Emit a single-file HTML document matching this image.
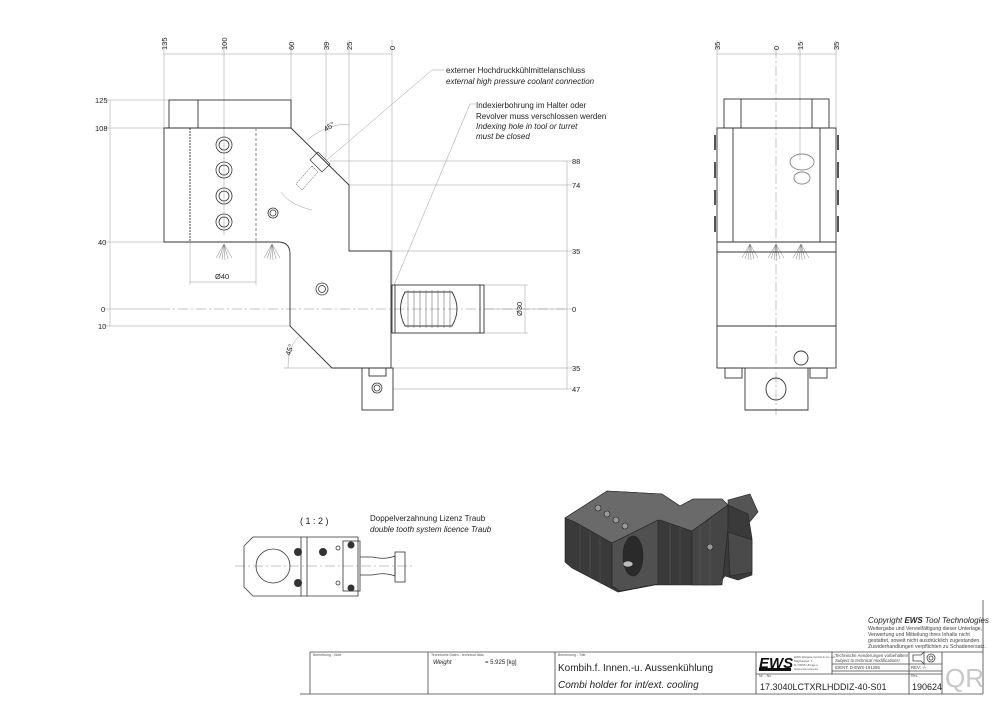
<!DOCTYPE html>
<html><head><meta charset="utf-8"><style>
html,body{margin:0;padding:0;background:#fff}
svg{display:block}
text{font-family:"Liberation Sans",sans-serif}
</style></head><body>
<svg width="1000" height="715" viewBox="0 0 1000 715" xmlns="http://www.w3.org/2000/svg">
<g fill="none" stroke="#9a9a9a" stroke-width="0.5">
 <line x1="164" y1="54" x2="392" y2="54"/>
 <line x1="164" y1="40" x2="164" y2="128"/>
 <line x1="224" y1="40" x2="224" y2="235"/>
 <line x1="291" y1="40" x2="291" y2="128"/>
 <line x1="326" y1="40" x2="326" y2="160"/>
 <line x1="349" y1="40" x2="349" y2="185"/>
 <line x1="392" y1="40" x2="392" y2="300"/>
 <line x1="110" y1="100" x2="110" y2="326"/>
 <line x1="104" y1="100" x2="169" y2="100"/>
 <line x1="104" y1="128" x2="164" y2="128"/>
 <line x1="104" y1="242" x2="164" y2="242"/>
 <line x1="104" y1="309" x2="160" y2="309"/>
 <line x1="104" y1="326" x2="291" y2="326"/>
 <line x1="567" y1="161" x2="567" y2="389"/>
 <line x1="330" y1="161" x2="572" y2="161"/>
 <line x1="349" y1="185" x2="572" y2="185"/>
 <line x1="391" y1="251" x2="572" y2="251"/>
 <line x1="484" y1="309" x2="572" y2="309"/>
 <line x1="284" y1="368" x2="572" y2="368"/>
 <line x1="393" y1="389" x2="572" y2="389"/>
 <line x1="190" y1="282" x2="256" y2="282"/>
 <line x1="190" y1="242" x2="190" y2="285"/>
 <line x1="256" y1="242" x2="256" y2="285"/>
 <line x1="525" y1="285" x2="525" y2="333"/>
 <line x1="484" y1="285" x2="528" y2="285"/>
 <line x1="484" y1="333" x2="528" y2="333"/>
 <path d="M307 140 Q330 122 350 125"/>
 <path d="M288 368 Q288 345 300 336"/>
 <path d="M281 192 Q290 205 312 210"/>
 <polyline points="327,160 432,70 444,70"/>
 <polyline points="394,285 470,104 476,104"/>
 <line x1="717" y1="54" x2="836" y2="54"/>
 <line x1="717" y1="40" x2="717" y2="128"/>
 <line x1="836" y1="40" x2="836" y2="128"/>
 <line x1="800" y1="40" x2="800" y2="160"/>
</g>
<g fill="none" stroke="#888" stroke-width="0.5" stroke-dasharray="10,3,2,3">
 <line x1="160" y1="309" x2="565" y2="309"/>
 <line x1="776" y1="48" x2="776" y2="415"/>
 <line x1="235" y1="566" x2="412" y2="566"/>
</g>
<g fill="none" stroke="#333" stroke-width="0.9">
 <rect x="169" y="100" width="122" height="28"/>
 <line x1="198" y1="100" x2="198" y2="128"/>
 <path d="M164 128 H291 L349 185 V251 H391 V368 H332 L290 326 V254 Q290 242 278 242 H164 Z"/>
 <line x1="190" y1="128" x2="190" y2="242" stroke-dasharray="2,1"/>
 <line x1="256" y1="128" x2="256" y2="242" stroke-dasharray="3,2" stroke="#777"/>
 <rect x="392" y="285" width="92" height="48"/>
 <line x1="395" y1="285" x2="395" y2="333"/>
 <line x1="480" y1="285" x2="480" y2="333"/>
 <path d="M405 292 H452 Q462 309 452 326 H405 Q396 309 405 292 Z"/>
 <rect x="362" y="368" width="31" height="42"/>
 <rect x="369" y="368" width="17" height="8"/>
 <path d="M318 152 L330 164 L322 172 L310 160 Z" stroke-width="0.7"/>
 <path d="M312 166 L318 172 L302 190 L296 184 Z" stroke-width="0.5" stroke-dasharray="2,1"/>
</g>
<g fill="none" stroke="#555" stroke-width="0.5">
 <path d="M408 290 v38 M414 290 v38 M420 290 v38 M426 290 v38 M432 290 v38 M438 290 v38 M444 290 v38 M450 290 v38"/>
</g>
<g fill="none" stroke="#333" stroke-width="0.8">
 <circle cx="224" cy="145" r="8"/><circle cx="224" cy="145" r="5"/>
 <circle cx="224" cy="170" r="8"/><circle cx="224" cy="170" r="5"/>
 <circle cx="224" cy="196" r="8"/><circle cx="224" cy="196" r="5"/>
 <circle cx="224" cy="222" r="8"/><circle cx="224" cy="222" r="5"/>
 <circle cx="273" cy="213" r="5"/><circle cx="273" cy="213" r="3"/>
 <circle cx="322" cy="289" r="6"/><circle cx="322" cy="289" r="3.5"/>
 <circle cx="377" cy="388" r="5"/><circle cx="377" cy="388" r="3"/>
</g>
<g stroke="#666" stroke-width="0.4">
 <path d="M224 244 L216 258 M224 244 L219 259 M224 244 L222 260 M224 244 L225 260 M224 244 L228 259 M224 244 L232 258"/>
 <path d="M272 244 L264 258 M272 244 L267 259 M272 244 L270 260 M272 244 L273 260 M272 244 L276 259 M272 244 L280 258"/>
 <path d="M750 244 L742 258 M750 244 L745 259 M750 244 L748 260 M750 244 L751 260 M750 244 L754 259 M750 244 L758 258"/>
 <path d="M776 244 L768 258 M776 244 L771 259 M776 244 L774 260 M776 244 L777 260 M776 244 L780 259 M776 244 L784 258"/>
 <path d="M801 244 L793 258 M801 244 L796 259 M801 244 L799 260 M801 244 L802 260 M801 244 L805 259 M801 244 L809 258"/>
</g>
<g fill="none" stroke="#333" stroke-width="0.9">
 <rect x="724" y="99" width="105" height="29"/>
 <line x1="741" y1="99" x2="741" y2="128"/>
 <line x1="812" y1="99" x2="812" y2="128"/>
 <rect x="717" y="128" width="119" height="240"/>
 <line x1="733" y1="128" x2="733" y2="242"/>
 <line x1="820" y1="128" x2="820" y2="242"/>
 <line x1="717" y1="242" x2="836" y2="242"/>
 <line x1="717" y1="252" x2="836" y2="252"/>
 <line x1="717" y1="326" x2="836" y2="326"/>
 <path d="M745 368 V410 H808 V368"/>
 <rect x="725" y="368" width="17" height="10"/>
 <rect x="810" y="368" width="17" height="10"/>
 <ellipse cx="776" cy="389" rx="10" ry="11"/>
 <circle cx="801" cy="358" r="7"/>
 <ellipse cx="802" cy="162" rx="12" ry="8" stroke="#888"/>
 <ellipse cx="802" cy="178" rx="8" ry="6" stroke="#888"/>
</g>
<g stroke="#555" stroke-width="2">
 <line x1="715" y1="135" x2="715" y2="150"/><line x1="715" y1="162" x2="715" y2="178"/><line x1="715" y1="190" x2="715" y2="205"/><line x1="715" y1="216" x2="715" y2="232"/>
 <line x1="838" y1="135" x2="838" y2="150"/><line x1="838" y1="162" x2="838" y2="178"/><line x1="838" y1="190" x2="838" y2="205"/><line x1="838" y1="216" x2="838" y2="232"/>
</g>
<g font-size="7.5" fill="#222">
 <text transform="translate(167,50) rotate(-90)">135</text>
 <text transform="translate(227,50) rotate(-90)">100</text>
 <text transform="translate(294,50) rotate(-90)">60</text>
 <text transform="translate(329,50) rotate(-90)">39</text>
 <text transform="translate(352,50) rotate(-90)">25</text>
 <text transform="translate(395,50) rotate(-90)">0</text>
 <text transform="translate(720,50) rotate(-90)">35</text>
 <text transform="translate(779,50) rotate(-90)">0</text>
 <text transform="translate(803,50) rotate(-90)">15</text>
 <text transform="translate(839,50) rotate(-90)">35</text>
 <text x="95" y="103">125</text><text x="95" y="131">108</text>
 <text x="98" y="245">40</text><text x="101" y="312">0</text><text x="98" y="329">10</text>
 <text x="572" y="164">88</text><text x="572" y="188">74</text><text x="572" y="254">35</text>
 <text x="572" y="312">0</text><text x="572" y="371">35</text><text x="572" y="392">47</text>
 <text x="215" y="279">Ø40</text>
 <text transform="translate(522,316) rotate(-90)">Ø30</text>
 <text transform="translate(326,132) rotate(-35)">45°</text>
 <text transform="translate(290,356) rotate(-70)">45°</text>
</g>
<g font-size="8" fill="#222">
 <text x="446" y="73">externer Hochdruckkühlmittelanschluss</text>
 <text x="446" y="84" font-style="italic">external high pressure coolant connection</text>
 <text x="476" y="108">Indexierbohrung im Halter oder</text>
 <text x="476" y="119">Revolver muss verschlossen werden</text>
 <text x="476" y="129" font-style="italic">Indexing hole in tool or turret</text>
 <text x="476" y="139" font-style="italic">must be closed</text>
 <text x="300" y="524" font-size="9">( 1 : 2 )</text>
 <text x="370" y="521">Doppelverzahnung Lizenz Traub</text>
 <text x="370" y="532" font-style="italic">double tooth system licence Traub</text>
</g>
<g fill="none" stroke="#333" stroke-width="0.8">
 <path d="M253 537 H358 V596 H253 L244 587 V546 Z"/>
 <line x1="301" y1="537" x2="301" y2="596"/>
 <line x1="307" y1="537" x2="307" y2="596"/>
 <circle cx="273" cy="566" r="17"/>
 <rect x="343" y="541" width="17" height="50"/>
 <path d="M360 557 H372 Q385 560 395 556 V576 Q385 572 372 575 H360"/>
 <rect x="395" y="552" width="10" height="30"/>
 <circle cx="338" cy="548" r="2"/><circle cx="338" cy="583" r="2"/>
</g>
<g fill="#333">
 <circle cx="298" cy="552" r="4"/><circle cx="298" cy="583" r="4"/><circle cx="323" cy="552" r="4"/>
 <circle cx="351" cy="545" r="3.5"/><circle cx="351" cy="588" r="3.5"/>
</g>
<!-- iso view -->
<g stroke="#222" stroke-width="0.6">
 <polygon fill="#555" points="728,500 750,494 758,512 748,524 728,516"/>
 <polygon fill="#3a3a3a" points="565,518 607,491 662,494 680,506 693,499 722,499 728,505 748,514 752,538 752,575 738,580 725,576 718,585 655,585 618,592 572,568 565,562"/>
 <polygon fill="#6a6a6a" points="565,518 607,491 662,494 680,506 693,499 722,499 728,505 692,531 660,520 612,543 575,522"/>
 <polygon fill="#505050" points="612,543 658,520 658,584 620,591 612,586"/>
 <polygon fill="#454545" points="692,531 728,505 728,528 722,585 692,585"/>
 <polygon fill="#4a4a4a" points="728,532 752,540 752,572 730,576"/>
 <ellipse cx="633" cy="556" rx="10" ry="20" fill="#2a2a2a"/>
 <ellipse cx="628" cy="564" rx="5" ry="3" fill="#bbb"/>
 <circle cx="598" cy="508" r="3" fill="#999"/><circle cx="607" cy="514" r="3" fill="#999"/>
 <circle cx="616" cy="520" r="3" fill="#999"/><circle cx="625" cy="526" r="3" fill="#999"/>
 <circle cx="710" cy="547" r="3" fill="#999"/>
</g>
<g stroke="#777" stroke-width="0.3">
 <path d="M580 525 v45 M590 531 v46 M600 537 v48 M670 524 v60 M680 527 v58 M700 526 v59 M710 520 v65"/>
</g>
<text x="868" y="623" font-size="8" font-style="italic" fill="#222">Copyright <tspan font-weight="bold">EWS</tspan> Tool Technologies</text>
<g font-size="5.2" fill="#444"><text x="868" y="630">Weitergabe und Vervielfältigung dieser Unterlage,</text>
<text x="868" y="636">Verwertung und Mitteilung ihres Inhalts nicht</text>
<text x="868" y="642">gestattet, soweit nicht ausdrücklich zugestanden.</text>
<text x="868" y="648">Zuwiderhandlungen verpflichten zu Schadenersatz.</text></g>
<g fill="none" stroke="#444" stroke-width="0.8">
 <line x1="300" y1="694" x2="983" y2="694"/>
 <line x1="983" y1="600" x2="983" y2="694"/>
 <line x1="310" y1="652" x2="983" y2="652"/>
 <line x1="310" y1="652" x2="310" y2="694"/>
 <line x1="428" y1="652" x2="428" y2="694"/>
 <line x1="555" y1="652" x2="555" y2="694"/>
 <line x1="756" y1="652" x2="756" y2="694"/>
 <line x1="909" y1="652" x2="909" y2="694"/>
 <line x1="942" y1="652" x2="942" y2="694"/>
 <line x1="832" y1="652" x2="832" y2="674"/>
 <line x1="832" y1="664" x2="942" y2="664"/>
 <line x1="832" y1="671" x2="942" y2="671"/>
 <line x1="756" y1="674" x2="942" y2="674"/>
 <circle cx="931" cy="658" r="4"/><circle cx="931" cy="658" r="2"/>
 <path d="M913 655 h8 l3 -3 v12 l-3 -3 h-8 z"/>
</g>
<g font-size="3.5" fill="#555"><text x="313" y="656">Bemerkung - Note</text><text x="431" y="656">Technische Daten - technical data</text><text x="558" y="656">Benennung - Title</text><text x="759" y="677">Nr. - No.</text><text x="911" y="677">Rev.</text></g>
<text x="433" y="664" font-size="6" font-style="italic" fill="#222">Weight</text>
<text x="485" y="664" font-size="6" fill="#222">= 5.925 [kg]</text>
<text x="558" y="671" font-size="10" fill="#222">Kombih.f. Innen.-u. Aussenkühlung</text>
<text x="558" y="688" font-size="10" font-style="italic" fill="#222">Combi holder for int/ext. cooling</text>
<text x="759" y="668" font-size="15" font-weight="bold" font-style="italic" fill="#111">EWS</text>
<rect x="759" y="668" width="32" height="3" fill="#111"/>
<g font-size="3" fill="#555"><text x="794" y="658">EWS Weigele GmbH &amp; Co. KG</text><text x="794" y="662">Maybachstr. 1</text><text x="794" y="666">D-73095 Uhingen</text><text x="794" y="670">www.ews-tools.de</text></g>
<g font-size="4.3" fill="#444"><text x="835" y="657">Technische Aenderungen vorbehalten!</text><text x="835" y="662" font-style="italic">Subject to technical modifications!</text><text x="835" y="669">IDENT: D-EWS-191255</text><text x="911" y="669">REV: -/-</text></g>
<text x="760" y="690" font-size="9" fill="#222">17.3040LCTXRLHDDIZ-40-S01</text>
<text x="912" y="690" font-size="9" fill="#222">190624</text>
<text x="945" y="687" font-size="26" fill="#c8c8c8" style="fill:#c8c8c8">QR</text>
</svg>
</body></html>
